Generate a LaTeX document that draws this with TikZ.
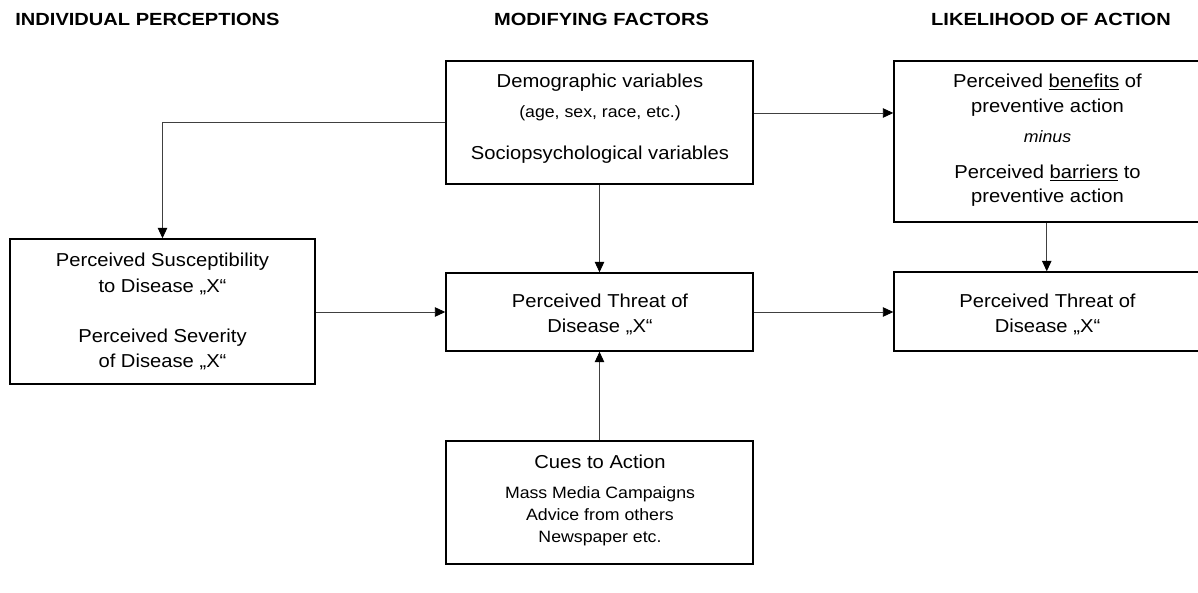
\documentclass[tikz,border=0pt]{standalone}
\usepackage{fontspec}
\setmainfont{Liberation Sans}[FakeStretch=1.08]
\newfontfamily\headfont{Liberation Sans}[FakeStretch=1.14]
\usetikzlibrary{arrows.meta}
\begin{document}
\begin{tikzpicture}[x=1pt,y=-1pt,
  box/.style={draw=black, line width=1.4pt, inner sep=0pt},
  big/.style={anchor=base, inner sep=0pt, font=\fontsize{18.7}{22}\selectfont},
  small/.style={anchor=base, inner sep=0pt, font=\fontsize{16.4}{20}\selectfont},
  head/.style={anchor=base, inner sep=0pt, font=\headfont\bfseries\fontsize{17.6}{20}\selectfont},
  link/.style={draw=black!75, line width=0.9pt, -{Triangle[length=10.5pt,width=9.5pt,color=black]}}]
\useasboundingbox[fill=white] (0,0) rectangle (1198,593);

% column headings
\node[head] (h1) at (147.5,26) {INDIVIDUAL PERCEPTIONS};
\node[head] (h2) at (601.5,26) {MODIFYING FACTORS};
\node[head] (h3) at (1051,26) {LIKELIHOOD OF ACTION};

% boxes
\node[box, minimum width=307pt, minimum height=123pt] (demo) at (599.5,122.5) {};
\node[box, minimum width=305.5pt, minimum height=161pt] (ben) at (1046.75,141.5) {};
\node[box, minimum width=305pt, minimum height=145pt] (susc) at (162.5,311.5) {};
\node[box, minimum width=307pt, minimum height=78pt] (threat) at (599.5,312) {};
\node[box, minimum width=305.5pt, minimum height=79pt] (act) at (1046.75,311.5) {};
\node[box, minimum width=307pt, minimum height=123pt] (cues) at (599.5,502.5) {};

% box texts
\node[big]   (d1) at (600,88)  {Demographic variables};
\node[small] (d2) at (600,118) {(age, sex, race, etc.)};
\node[big]   (d3) at (600,160) {Sociopsychological variables};

\node[big]   (b1) at (1047.5,88)  {Perceived \underline{benefits} of};
\node[big]   (b2) at (1047.5,113) {preventive action};
\node[small] (b3) at (1047.5,143) {\itshape minus};
\node[big]   (b4) at (1047.5,179) {Perceived \underline{barriers} to};
\node[big]   (b5) at (1047.5,203) {preventive action};

\node[big] (s1) at (162.5,267) {Perceived Susceptibility};
\node[big] (s2) at (162.5,293) {to Disease „X“};
\node[big] (s3) at (162.5,342) {Perceived Severity};
\node[big] (s4) at (162.5,367) {of Disease „X“};

\node[big] (t1) at (600,307) {Perceived Threat of};
\node[big] (t2) at (600,332) {Disease „X“};

\node[big] (a1) at (1047.5,307) {Perceived Threat of};
\node[big] (a2) at (1047.5,332) {Disease „X“};

\node[big]   (c1) at (600,468) {Cues to Action};
\node[small] (c2) at (600,498) {Mass Media Campaigns};
\node[small] (c3) at (600,520) {Advice from others};
\node[small] (c4) at (600,542) {Newspaper etc.};

% connectors
\draw[link] (demo.west) -| (susc.north);
\draw[link] (demo.east |- 0,113) -- (ben.west |- 0,113);
\draw[link] (demo.south) -- (threat.north);
\draw[link] (cues.north) -- (threat.south);
\draw[link] (susc.east |- threat.west) -- (threat.west);
\draw[link] (threat.east) -- (threat.east -| act.west);
\draw[link] (ben.south) -- (act.north);
\end{tikzpicture}
\end{document}
